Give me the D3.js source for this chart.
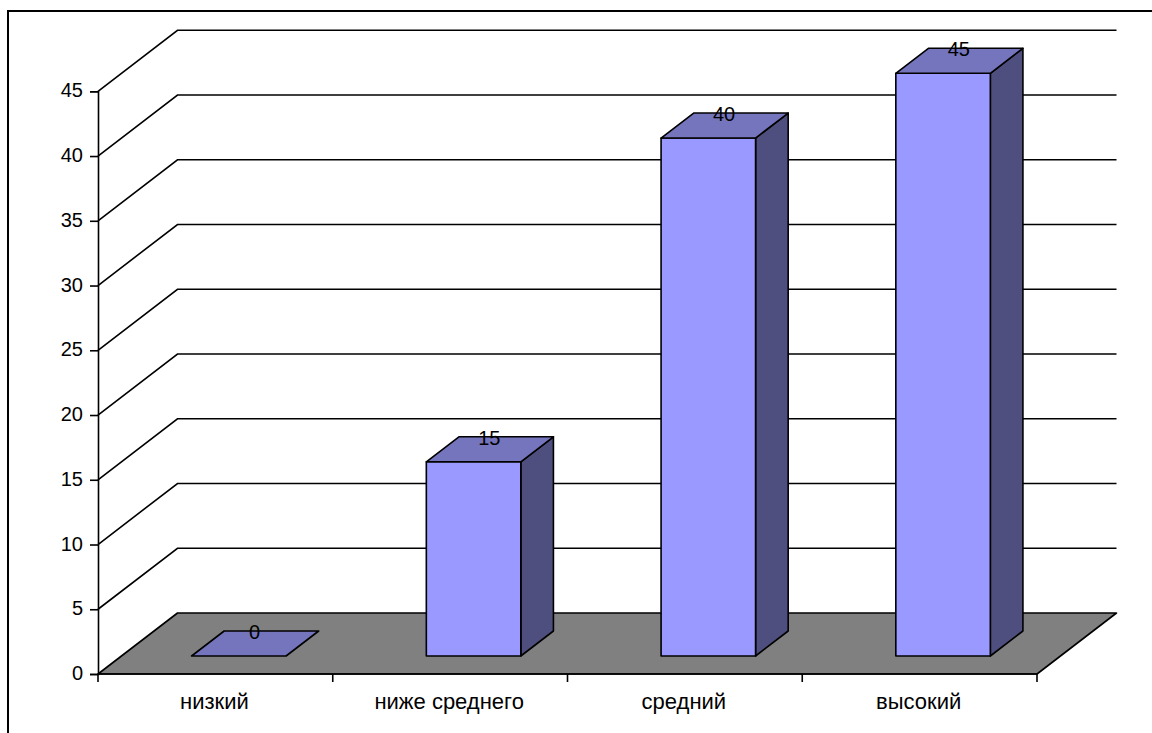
<!DOCTYPE html>
<html><head><meta charset="utf-8">
<script src="https://cdn.jsdelivr.net/npm/d3@7/dist/d3.min.js"></script>
<style>html,body{margin:0;padding:0;background:#fff}svg{display:block}text{font-family:"Liberation Sans",Arial,sans-serif;fill:#000}</style>
</head><body><svg id="c" width="1152" height="733"></svg>
<script>
const categories = ["низкий","ниже среднего","средний","высокий"];
const values = [0,15,40,45];
const yTicks = [0,5,10,15,20,25,30,35,40,45];

const svg = d3.select("#c");
const x = d3.scaleBand().domain(categories).range([98,1037]);
const y = d3.scaleLinear().domain([0,45]).range([674,91.3]);
const depthX = d3.scaleLinear().domain([0,1]).range([0,79.5]);
const depthY = d3.scaleLinear().domain([0,1]).range([0,-61]);
const barW = 94.5, dNear = 0.295, dFar = 0.705, sw = 1.6;
const pt = (px,v,d)=>[px+depthX(d), y(v)+depthY(d)];
const line = d3.line();
const poly = (pts,fill)=>svg.append("path").attr("d",line(pts)+"Z").attr("fill",fill).attr("stroke","#000").attr("stroke-width",sw).attr("stroke-linejoin","round");

svg.append("rect").attr("x",8).attr("y",11).attr("width",1200).attr("height",800).attr("fill","#fff").attr("stroke","#000").attr("stroke-width",2);

yTicks.forEach(v=>{
  if(v===0) return;
  svg.append("path").attr("d",line([pt(98,v,0),pt(98,v,1),pt(1037,v,1)])).attr("fill","none").attr("stroke","#000").attr("stroke-width",sw);
});
poly([pt(98,0,0),pt(98,0,1),pt(1037,0,1),pt(1037,0,0)],"#808080");

const axisL = d3.axisLeft(y).tickValues(yTicks).tickSize(8).tickPadding(7);
const gy = svg.append("g").attr("transform","translate(98,0)").call(axisL);
gy.selectAll("path,line").attr("stroke-width",sw);
gy.selectAll("text").attr("font-family",null).attr("dy","0.28em").style("font-size","20px");
const edges = categories.map(c=>x(c)).concat([1037]);
const gx = svg.append("g");
gx.append("path").attr("d",line([[98,674],[1037,674]])).attr("stroke","#000").attr("stroke-width",sw);
gx.selectAll("line").data(edges).join("line").attr("x1",d=>d).attr("x2",d=>d).attr("y1",674).attr("y2",682).attr("stroke","#000").attr("stroke-width",sw);
gx.selectAll("text").data(categories).join("text").attr("x",d=>x(d)+x.bandwidth()/2-1).attr("y",709).attr("text-anchor","middle").style("font-size","22px").text(d=>d);

categories.forEach((c,i)=>{
  const x0 = x(c)+x.bandwidth()/2-barW/2, x1 = x0+barW, v = values[i];
  if(v>0){
    poly([pt(x1,0,dNear),pt(x1,0,dFar),pt(x1,v,dFar),pt(x1,v,dNear)],"#4f4f7f");
    poly([pt(x0,0,dNear),pt(x1,0,dNear),pt(x1,v,dNear),pt(x0,v,dNear)],"#9999ff");
  }
  poly([pt(x0,v,dNear),pt(x1,v,dNear),pt(x1,v,dFar),pt(x0,v,dFar)],"#7575bd");
  const c0 = pt((x0+x1)/2,v,0.5);
  svg.append("text").attr("x",c0[0]-0.5).attr("y",c0[1]-4.5).attr("text-anchor","middle").style("font-size","20px").text(v);
});
</script></body></html>
